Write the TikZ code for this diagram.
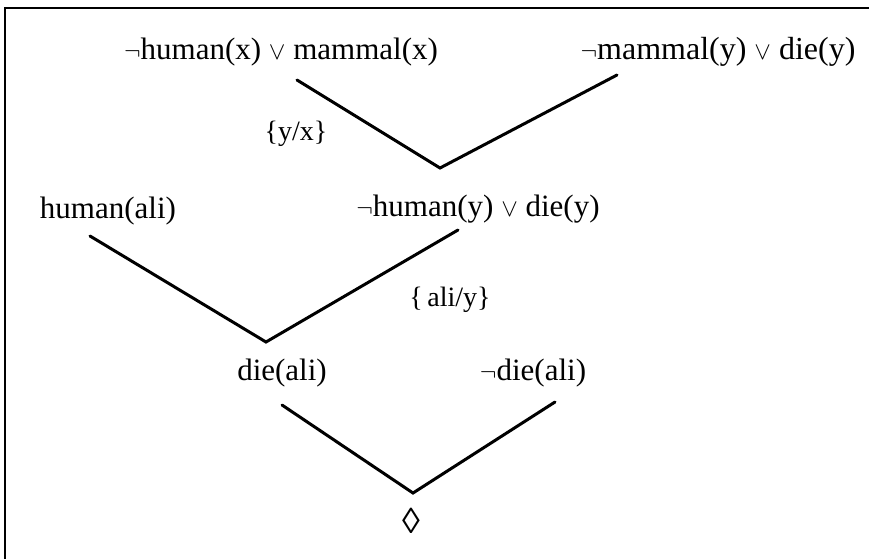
\documentclass[tikz,border=0pt]{standalone}
\usepackage{fontspec}
\setmainfont{Liberation Serif}
\usepackage{tikz}
\usetikzlibrary{calc}

\tikzset{
	clause/.style={inner sep=1pt,font=\fontsize{31}{35}\selectfont},
	subst/.style={inner sep=1pt,font=\fontsize{28}{32}\selectfont},
	resolve/.style={line width=3pt,line cap=round,line join=miter}
}

\begin{document}
\begin{tikzpicture}[x=1pt,y=-1pt]
			\useasboundingbox (0,0) rectangle (869,558);
			\clip (0,0) rectangle (869,558);
			\draw[line width=1.8pt] (5,8) rectangle (890,580);
			
			% clauses
			\node[clause] (c1) at (281,52) {$\neg$human(x) $\vee$ mammal(x)};
			\node[clause,font=\fontsize{32}{36}\selectfont] (c2) at (718,52) {$\neg$mammal(y) $\vee$ die(y)};
			\node[clause] (c3) at (108,211) {human(ali)};
			\node[clause] (c4) at (478,209) {$\neg$human(y) $\vee$ die(y)};
			\node[clause] (c5) at (282,373) {die(ali)};
			\node[clause] (c6) at (533,373) {$\neg$die(ali)};
			\node[clause,font=\fontsize{36}{40}\selectfont] (c7) at (411,521) {◊};
			
			% substitutions
			\node[subst] (s1) at (296,134) {\{y/x\}};
			\node[subst] (s2) at (450,300) {\{\,ali/y\}};
			
			% end points of the resolution steps
			\coordinate (a1) at (297,80);
			\coordinate (b1) at (617,75);
			\coordinate (v1) at (440,168);
			\coordinate (a2) at (90,236);
			\coordinate (b2) at (458,230);
			\coordinate (v2) at (266,342);
			\coordinate (a3) at (282,405);
			\coordinate (b3) at (555,402);
			\coordinate (v3) at (413,493);
			
			\draw[resolve] (a1)--(v1)--(b1);
			\draw[resolve] (a2)--(v2)--(b2);
			\draw[resolve] (a3)--(v3)--(b3);
		\end{tikzpicture}
\end{document}
